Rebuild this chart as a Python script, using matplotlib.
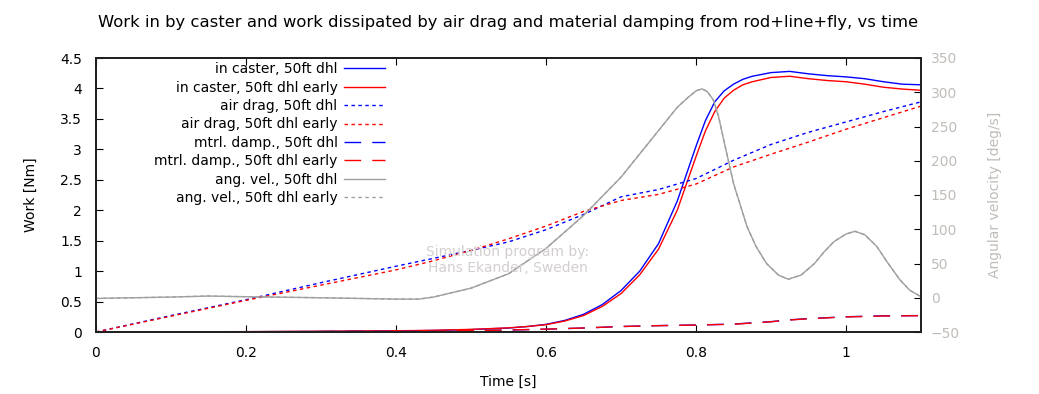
import matplotlib
matplotlib.use("Agg")
import matplotlib.pyplot as plt
from matplotlib.ticker import FormatStrFormatter, MultipleLocator

plt.rcParams['font.family'] = ['DejaVu Sans']

# ---- data ----
t_caster = [0, 0.1, 0.2, 0.3, 0.4, 0.45, 0.5, 0.55, 0.575, 0.6, 0.625, 0.65, 0.675, 0.7,
            0.725, 0.75, 0.775, 0.8, 0.8125, 0.825, 0.8375, 0.85, 0.8625, 0.875, 0.9, 0.925,
            0.95, 0.975, 1.0, 1.025, 1.05, 1.075, 1.1]
caster_50 = [0, 0.002, 0.005, 0.01, 0.018, 0.025, 0.04, 0.065, 0.09, 0.125, 0.19, 0.29, 0.45, 0.68,
             1.0, 1.45, 2.15, 3.05, 3.47, 3.78, 3.96, 4.07, 4.15, 4.2, 4.26, 4.28,
             4.24, 4.21, 4.19, 4.16, 4.11, 4.07, 4.06]
caster_50_early = [0, 0.003, 0.006, 0.012, 0.02, 0.028, 0.043, 0.068, 0.09, 0.12, 0.18, 0.27, 0.42, 0.63,
                   0.94, 1.36, 2.0, 2.88, 3.3, 3.62, 3.84, 3.97, 4.06, 4.11, 4.18, 4.2,
                   4.16, 4.13, 4.11, 4.07, 4.02, 3.99, 3.97]

t_air = [0, 0.1, 0.2, 0.3, 0.4, 0.45, 0.5, 0.55, 0.6, 0.65, 0.7, 0.75, 0.8, 0.85, 0.9, 0.95, 1.0, 1.05, 1.1]
air_50 = [0, 0.27, 0.53, 0.81, 1.08, 1.21, 1.34, 1.48, 1.68, 1.93, 2.22, 2.34, 2.52, 2.82, 3.08, 3.28, 3.45, 3.62, 3.78]
air_50_early = [0, 0.26, 0.52, 0.77, 1.02, 1.17, 1.34, 1.53, 1.74, 1.98, 2.16, 2.26, 2.43, 2.71, 2.92, 3.12, 3.33, 3.52, 3.71]

t_damp = [0, 0.2, 0.3, 0.4, 0.5, 0.55, 0.6, 0.65, 0.7, 0.75, 0.8, 0.85, 0.875, 0.9, 0.925, 0.95, 1.0, 1.05, 1.1]
damp_50 = [0, 0.003, 0.006, 0.012, 0.022, 0.032, 0.046, 0.065, 0.09, 0.105, 0.115, 0.13, 0.15, 0.17, 0.2, 0.22, 0.25, 0.265, 0.27]
damp_50_early = [0, 0.003, 0.006, 0.012, 0.023, 0.033, 0.047, 0.066, 0.09, 0.104, 0.114, 0.128, 0.147, 0.168, 0.197, 0.218, 0.248, 0.263, 0.268]

t_ang = [0, 0.1, 0.15, 0.2, 0.3, 0.4, 0.43, 0.45, 0.5, 0.55, 0.6, 0.65, 0.7, 0.725, 0.75, 0.775,
         0.79, 0.8, 0.808, 0.815, 0.823, 0.83, 0.836, 0.85, 0.868, 0.88, 0.894, 0.91, 0.923,
         0.94, 0.958, 0.97, 0.984, 1.0, 1.012, 1.025, 1.041, 1.055, 1.072, 1.085, 1.1]
ang_50 = [-1, 1, 2.5, 1.5, 0, -2, -2, 1, 14, 35, 72, 120, 176, 210, 244, 278,
          293, 302, 305, 301, 289, 265, 235, 167, 104, 75, 50, 33, 27,
          33, 50, 66, 82, 93, 97, 92, 75, 52, 26, 11, 1.5]
ang_50_early = [-1, 1, 2.5, 1.5, 0, -2, -2, 1, 14, 35, 72, 120, 176, 210, 244, 278,
                293, 302, 305, 301, 289, 265, 235, 167, 104, 75, 50, 33, 27,
                33, 50, 66, 82, 93, 97, 92, 75, 52, 26, 11, 1.5]

labels = ["in caster, 50ft dhl", "in caster, 50ft dhl early",
          "air drag, 50ft dhl", "air drag, 50ft dhl early",
          "mtrl. damp., 50ft dhl", "mtrl. damp., 50ft dhl early",
          "ang. vel., 50ft dhl", "ang. vel., 50ft dhl early"]

title = "Work in by caster and work dissipated by air drag and material damping from rod+line+fly, vs time"

# ---- figure ----
W, H = 1039, 394
fig = plt.figure(figsize=(W / 100, H / 100), dpi=100)
ax = fig.add_axes([96 / W, 1 - 332 / H, (921 - 96) / W, (332 - 58) / H])
ax2 = ax.twinx()

blue, red, gray = "#0000ff", "#ff0000", "#a0a0a0"
lw = 1.0
h = []
h += ax.plot(t_caster, caster_50, color=blue, lw=lw)
h += ax.plot(t_caster, caster_50_early, color=red, lw=lw)
h += ax.plot(t_air, air_50, color=blue, lw=lw, dashes=(2.5, 2.5))
h += ax.plot(t_air, air_50_early, color=red, lw=lw, dashes=(2.5, 2.5))
h += ax.plot(t_damp, damp_50, color=blue, lw=lw, dashes=(12, 8))
h += ax.plot(t_damp, damp_50_early, color=red, lw=lw, dashes=(12, 8))
h += ax2.plot(t_ang, ang_50, color=gray, lw=lw)
h += ax2.plot(t_ang, ang_50_early, color=gray, lw=lw, dashes=(2.5, 2.5))

ax.set_xlim(0, 1.1)
ax.set_ylim(0, 4.5)
ax2.set_ylim(-50, 350)
ax.xaxis.set_major_locator(MultipleLocator(0.2))
ax.yaxis.set_major_locator(MultipleLocator(0.5))
ax2.yaxis.set_major_locator(MultipleLocator(50))
ax.xaxis.set_major_formatter(FormatStrFormatter('%g'))
ax.yaxis.set_major_formatter(FormatStrFormatter('%g'))

fs = 10
tc = "#c0bcb8"
ax.tick_params(axis='x', direction='in', top=True, length=5, labelsize=fs, pad=10)
ax.tick_params(axis='y', direction='in', length=5, labelsize=fs, pad=10)
ax2.tick_params(axis='y', direction='in', length=5, labelsize=fs, labelcolor=tc, pad=7)
for a in (ax, ax2):
    for sp in a.spines.values():
        sp.set_linewidth(1.3)
        sp.set_color("#202020")

ax.set_xlabel("Time [s]", fontsize=fs, labelpad=11)
ax.set_ylabel("Work [Nm]", fontsize=fs, labelpad=16)
ax2.set_ylabel("Angular velocity [deg/s]", fontsize=fs, color=tc, labelpad=20)
fig.suptitle(title, fontsize=11.8, x=508 / W, y=1 - 22 / H, va='center')

leg = ax.legend(h, labels, loc='upper right', bbox_to_anchor=(0.350, 0.985),
                frameon=False, markerfirst=False, fontsize=fs, handlelength=2.9,
                handletextpad=0.5, labelspacing=0.32, borderpad=0, borderaxespad=0)

fig.text(508 / W, 1 - 260 / H, "Simulation program by:\nHans Ekander, Sweden",
         ha='center', va='center', color="#d4cfcf", fontsize=fs, linespacing=1.25)

fig.savefig("out.png", dpi=100)
